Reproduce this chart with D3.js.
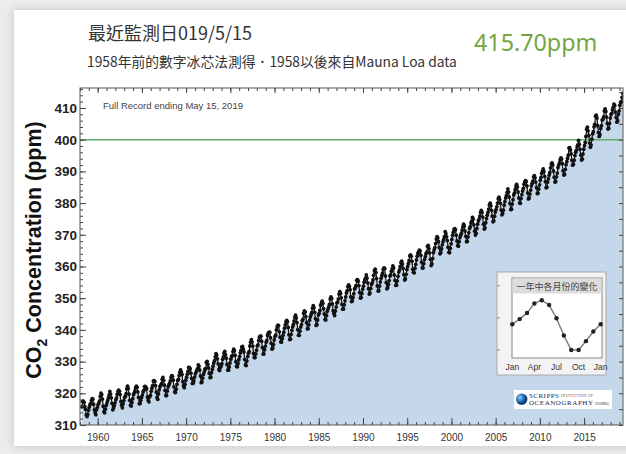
<!DOCTYPE html>
<html><head><meta charset="utf-8">
<script src="https://cdn.jsdelivr.net/npm/d3@7"></script>
<style>body{margin:0;background:#ececec;overflow:hidden} svg{display:block}</style>
</head><body>
<svg id="c" width="626" height="454"></svg>
<script>
// ---- data (monthly mean CO2, ppm), series starts March 1958 ----
const seriesStart = { year: 1958, month: 3 };
const co2_1950s = [315.71,317.45,317.50,317.10,315.86,314.93,313.20,312.66,313.33,314.67,
 315.62,316.38,316.71,317.72,318.29,318.15,316.54,314.80,313.84,313.26,314.80,315.58];
const co2_1960s = [
 316.43,316.97,317.58,319.02,320.03,319.59,318.18,315.91,314.16,313.83,315.00,316.19,
 316.93,317.70,318.54,319.48,320.58,319.77,318.57,316.79,314.80,315.38,316.10,317.01,
 317.94,318.55,319.68,320.57,321.02,320.62,319.61,317.40,316.25,315.42,316.69,317.70,
 318.74,319.07,319.86,321.38,322.25,321.48,319.74,317.77,316.21,315.99,317.12,318.31,
 319.57,320.07,320.73,321.77,322.25,321.89,320.44,318.70,316.70,316.79,317.79,318.71,
 319.44,320.44,320.89,322.13,322.16,321.87,321.39,318.81,317.81,317.30,318.87,319.42,
 320.62,321.59,322.39,323.87,324.01,323.75,322.39,320.37,318.64,318.10,319.79,321.08,
 322.07,322.50,323.04,324.42,325.00,324.09,322.55,320.92,319.31,319.31,320.72,321.96,
 322.57,323.15,323.89,325.02,325.57,325.36,324.14,322.03,320.41,320.25,321.31,322.84,
 324.00,324.42,325.64,326.66,327.38,326.70,325.89,323.67,322.38,321.78,322.85,324.12];
const co2_1970s = [
 325.03,325.99,326.87,328.13,328.07,327.66,326.35,324.69,323.10,323.16,323.98,325.13,
 326.17,326.68,327.17,327.79,328.93,328.57,327.36,325.43,323.36,323.56,324.80,326.01,
 326.77,327.63,327.75,329.72,330.07,329.09,328.05,326.32,324.93,325.06,326.50,327.55,
 328.55,329.56,330.30,331.50,332.48,332.07,330.87,329.31,327.51,327.18,328.16,328.64,
 329.35,330.71,331.48,332.65,333.20,332.16,331.07,329.12,327.32,327.28,328.30,329.58,
 330.73,331.46,331.90,333.17,333.94,333.45,331.98,329.95,328.50,328.34,329.37,330.58,
 331.59,332.75,333.52,334.64,334.77,334.00,333.06,330.68,328.95,328.75,330.15,331.62,
 332.66,333.13,334.95,336.13,336.93,336.17,334.88,332.56,331.29,331.27,332.41,333.60,
 334.95,335.25,336.66,337.69,338.03,338.01,336.41,334.41,332.37,332.41,333.75,334.90,
 336.14,336.69,338.27,338.95,339.21,339.26,337.54,335.75,333.98,334.19,335.31,336.81];
const co2_1980s = [
 337.90,338.34,340.01,340.93,341.48,341.33,339.40,337.70,336.19,336.15,337.27,338.32,
 339.29,340.55,341.61,342.53,343.03,342.54,340.78,338.44,336.95,337.08,338.58,339.88,
 340.96,341.73,342.81,343.97,344.63,343.79,342.32,340.09,338.28,338.29,339.60,340.90,
 341.68,342.90,343.33,345.25,346.03,345.63,344.19,342.27,340.35,340.38,341.59,343.05,
 344.10,344.79,345.52,346.84,347.63,346.98,345.53,343.55,341.40,341.67,343.10,344.70,
 345.21,346.16,347.74,348.34,349.06,348.38,346.72,345.02,343.27,343.13,344.49,345.88,
 346.56,347.28,348.01,349.77,350.38,349.93,348.16,346.08,345.22,344.51,345.93,347.22,
 348.52,348.73,349.73,351.31,352.09,351.53,350.11,348.08,346.52,346.59,347.96,349.16,
 350.39,351.64,352.41,353.69,354.21,353.72,352.69,350.40,348.92,349.13,350.20,351.41,
 352.91,353.27,353.96,355.64,355.86,355.37,353.99,351.81,350.05,350.25,351.49,352.85];
const co2_1990s = [
 353.80,355.04,355.73,356.32,357.32,356.34,354.84,353.01,351.31,351.62,353.07,354.33,
 354.84,355.73,357.23,358.66,359.13,358.13,356.19,353.85,352.25,352.35,353.81,355.12,
 356.25,357.11,357.86,359.09,359.59,359.33,357.01,354.94,352.96,353.32,354.32,355.57,
 357.00,357.31,358.47,359.27,360.19,359.52,357.33,355.64,354.03,354.12,355.41,356.91,
 358.24,358.92,359.99,361.23,361.65,360.81,359.38,357.46,355.73,356.07,357.53,358.98,
 359.92,360.86,361.83,363.30,363.69,363.19,361.64,359.12,358.17,357.99,359.45,360.68,
 362.07,363.24,364.17,364.57,365.13,364.92,363.55,361.38,359.54,359.58,360.89,362.24,
 363.09,364.03,364.51,366.35,366.64,365.59,364.31,362.25,360.29,360.82,362.49,364.38,
 365.26,365.98,367.24,368.66,369.42,368.99,367.82,365.95,364.02,364.40,365.52,366.83,
 367.79,368.53,369.39,371.00,370.35,369.36,368.16,366.07,364.47,364.35,365.73,367.18];
const co2_2000s = [
 368.53,369.83,370.76,371.69,371.94,371.53,369.85,368.05,366.59,366.41,367.83,369.08,
 369.88,370.51,371.49,372.48,373.34,372.74,371.18,369.51,367.83,367.90,369.31,370.61,
 371.99,372.57,373.69,374.28,375.52,374.92,373.15,371.15,369.91,370.46,371.98,373.33,
 374.37,374.94,375.90,377.06,377.69,377.05,375.58,373.36,371.80,372.16,373.79,375.11,
 376.17,377.07,378.10,379.42,379.98,379.12,377.71,375.88,374.11,374.40,375.84,377.18,
 377.95,378.83,379.99,381.38,381.86,381.12,379.93,377.79,376.31,376.68,377.76,379.34,
 380.49,381.58,382.33,383.39,384.45,383.50,381.92,379.89,377.94,378.06,379.68,381.06,
 382.55,383.19,384.28,385.34,385.91,385.07,383.50,381.64,380.00,379.94,381.41,382.66,
 383.80,384.63,385.97,386.68,387.11,386.77,385.39,383.21,381.32,381.64,382.84,384.11,
 385.44,386.26,386.93,388.29,388.64,387.97,386.64,384.85,383.00,383.08,384.41,385.75];
const co2_2010s = [
 387.20,388.12,389.39,390.09,390.76,389.89,388.44,386.75,384.84,385.02,386.65,387.69,
 388.82,389.65,391.13,392.36,392.70,392.05,390.14,388.13,386.63,386.81,388.29,389.46,
 391.19,391.99,392.67,393.64,394.22,393.93,392.44,390.19,388.86,389.08,390.64,392.10,
 393.10,394.08,395.12,397.40,397.45,396.74,395.55,393.50,391.95,392.28,393.54,394.98,
 396.00,396.70,397.80,398.35,399.76,398.57,396.98,395.14,393.57,393.84,395.51,396.98,
 398.10,399.12,401.00,403.25,403.94,402.80,401.31,398.93,397.63,398.29,400.16,401.85,
 402.51,404.04,404.83,407.42,407.70,406.81,404.39,402.25,401.03,401.57,403.53,404.42,
 406.17,406.46,407.22,409.04,409.69,408.88,407.12,405.13,403.37,403.63,405.12,406.81,
 407.96,408.32,409.41,410.24,411.24,410.79,408.71,406.99,405.51,406.00,408.02,409.07,
 410.83,411.75,411.97,413.32,414.66];

const yTicks = [310,320,330,340,350,360,370,380,390,400,410];
const xTickYears = [1960,1965,1970,1975,1980,1985,1990,1995,2000,2005,2010,2015];
const referenceLevel = 400;

// inset: average seasonal cycle (ppm anomaly), Jan..Jan
const insetMonths = [0,1,2,3,4,5,6,7,8,9,10,11,12];
const insetValues = [0.0,0.65,1.4,2.6,3.0,2.4,0.75,-1.4,-3.2,-3.2,-2.1,-0.9,0.0];
const insetLabelMonths = [0,3,6,9,12];
const insetLabels = ["Jan","Apr","Jul","Oct","Jan"];
const insetYTicks = [-3.2,0.8,4.8];

const titleText = "最近監測日019/5/15";
const subtitleText = "1958年前的數字冰芯法測得．1958以後來自Mauna Loa data";
const latestText = "415.70ppm";
const noteText = "Full Record ending May 15, 2019";
const insetTitle = "一年中各月份的變化";

// ---- build ----
const series = [].concat(co2_1950s, co2_1960s, co2_1970s, co2_1980s, co2_1990s, co2_2000s, co2_2010s)
  .map((v, i) => ({ t: seriesStart.year + (seriesStart.month - 1 + i + 0.5) / 12, v }));

const svg = d3.select("#c");
const defs = svg.append("defs");
const f = defs.append("filter").attr("id","sh").attr("x","-5%").attr("y","-5%").attr("width","110%").attr("height","110%");
f.append("feDropShadow").attr("dx",0).attr("dy",0).attr("stdDeviation",4).attr("flood-color","#000").attr("flood-opacity",0.18);
const rg = defs.append("radialGradient").attr("id","globe").attr("cx","35%").attr("cy","35%");
rg.append("stop").attr("offset","0%").attr("stop-color","#8fd0f0");
rg.append("stop").attr("offset","60%").attr("stop-color","#2f7fc4");
rg.append("stop").attr("offset","100%").attr("stop-color","#123f7a");

svg.append("rect").attr("width",626).attr("height",454).attr("fill","#ececec");
svg.append("rect").attr("x",14).attr("y",10).attr("width",640).attr("height",436).attr("fill","#fff").attr("filter","url(#sh)");

const L = 80, R = 623, T = 88, B = 425;
const x = d3.scaleLinear().domain([1958, 2019.4]).range([L, R]);
const y = d3.scaleLinear().domain([310, 416.3]).range([B, T]);

defs.append("clipPath").attr("id","clip").append("rect").attr("x",L).attr("y",T).attr("width",R-L).attr("height",B-T);

const plot = svg.append("g").attr("clip-path","url(#clip)");
plot.append("path").datum(series)
  .attr("d", d3.area().x(d=>x(d.t)).y0(B).y1(d=>y(d.v)))
  .attr("fill","#c4d7eb");
plot.append("line").attr("x1",L).attr("x2",R).attr("y1",y(referenceLevel)).attr("y2",y(referenceLevel))
  .attr("stroke","#5fae68").attr("stroke-width",1.6);
plot.append("path").datum(series)
  .attr("d", d3.line().x(d=>x(d.t)).y(d=>y(d.v)))
  .attr("fill","none").attr("stroke","#111").attr("stroke-width",1.2);
plot.selectAll("circle.pt").data(series).join("circle").attr("class","pt")
  .attr("cx",d=>x(d.t)).attr("cy",d=>y(d.v)).attr("r",1.9).attr("fill","#111");

// axes
function styleAxis(g){ g.select(".domain").remove(); g.selectAll(".tick line").attr("stroke","#444"); }
const yearsAll = d3.range(1958, 2020);
const minorY2 = d3.range(310, 417, 2);
const minorY5 = d3.range(310, 417, 5);

svg.append("g").attr("transform",`translate(${L},0)`)
  .call(d3.axisLeft(y).tickValues(minorY2).tickSize(-3).tickFormat("")).call(styleAxis);
svg.append("g").attr("transform",`translate(${L},0)`)
  .call(d3.axisLeft(y).tickValues(yTicks).tickSize(-6).tickPadding(3).tickFormat(d3.format("d")))
  .call(styleAxis)
  .call(g=>g.selectAll("text").attr("font-family","Liberation Sans, Arial, sans-serif").attr("font-size",13.5).attr("font-weight","bold").attr("fill","#222"));
svg.append("g").attr("transform",`translate(${R},0)`)
  .call(d3.axisRight(y).tickValues(minorY5).tickSize(-4).tickFormat("")).call(styleAxis);

svg.append("g").attr("transform",`translate(0,${B})`)
  .call(d3.axisBottom(x).tickValues(yearsAll).tickSize(-3).tickFormat("")).call(styleAxis);
svg.append("g").attr("transform",`translate(0,${B})`)
  .call(d3.axisBottom(x).tickValues(xTickYears).tickSize(-7).tickPadding(9).tickFormat(d3.format("d")))
  .call(styleAxis)
  .call(g=>g.selectAll("text").attr("font-family","Liberation Sans, Arial, sans-serif").attr("font-size",10).attr("fill","#333"));
svg.append("g").attr("transform",`translate(0,${T})`)
  .call(d3.axisTop(x).tickValues(yearsAll).tickSize(-3).tickFormat("")).call(styleAxis);
svg.append("g").attr("transform",`translate(0,${T})`)
  .call(d3.axisTop(x).tickValues(xTickYears).tickSize(-5).tickFormat("")).call(styleAxis);

svg.append("rect").attr("x",L).attr("y",T).attr("width",R-L).attr("height",B-T)
  .attr("fill","none").attr("stroke","#555").attr("stroke-width",1);

// y title
const yt = svg.append("text").attr("transform",`translate(41,250) rotate(-90)`)
  .attr("text-anchor","middle").attr("font-family","Liberation Sans, Arial, sans-serif")
  .attr("font-weight","bold").attr("font-size",21.5).attr("fill","#111");
yt.append("tspan").text("CO");
yt.append("tspan").attr("font-size",14).attr("dy",6).text("2");
yt.append("tspan").attr("dy",-6).text(" Concentration (ppm)");

// texts
svg.append("text").attr("x",103).attr("y",108.5).attr("font-family","Liberation Sans, Arial, sans-serif")
  .attr("font-size",9.5).attr("fill","#444").text(noteText);
svg.append("text").attr("x",88).attr("y",40).attr("font-family","Noto Sans CJK TC, sans-serif")
  .attr("font-size",18).attr("fill","#333").text(titleText);
svg.append("text").attr("x",87).attr("y",67).attr("font-family","Noto Sans CJK TC, sans-serif")
  .attr("font-size",13.8).attr("fill","#333").text(subtitleText);
svg.append("text").attr("x",474).attr("y",51).attr("font-family","Noto Sans, sans-serif")
  .attr("font-size",23.3).attr("fill","#74a541").text(latestText);

// inset
const ins = svg.append("g");
ins.append("rect").attr("x",497).attr("y",272).attr("width",109).attr("height",103)
  .attr("fill","#f3f3f3").attr("stroke","#aaa");
ins.append("rect").attr("x",512).attr("y",278).attr("width",90).attr("height",80)
  .attr("fill","#fff").attr("stroke","#888");
ins.append("rect").attr("x",512.5).attr("y",278.5).attr("width",89).attr("height",15)
  .attr("fill","#dcdcdc");
ins.append("text").attr("x",557).attr("y",289.5).attr("text-anchor","middle")
  .attr("font-family","Noto Sans CJK TC, sans-serif").attr("font-size",9).attr("fill","#444").text(insetTitle);
const ix = d3.scaleLinear().domain([0,12]).range([512.3,600.7]);
const iy = d3.scaleLinear().domain([-4.2,3.9]).range([358,293]);
ins.selectAll("line.it").data(insetYTicks).join("line").attr("class","it")
  .attr("x1",497).attr("x2",500).attr("y1",d=>iy(d)).attr("y2",d=>iy(d)).attr("stroke","#888");
ins.append("path").datum(insetMonths.map((m,i)=>({m, v: insetValues[i]})))
  .attr("d", d3.line().x(d=>ix(d.m)).y(d=>iy(d.v)))
  .attr("fill","none").attr("stroke","#777").attr("stroke-width",1.4);
ins.selectAll("circle.ip").data(insetMonths.map((m,i)=>({m, v: insetValues[i]}))).join("circle").attr("class","ip")
  .attr("cx",d=>ix(d.m)).attr("cy",d=>iy(d.v)).attr("r",2.2).attr("fill","#222");
ins.selectAll("text.il").data(insetLabelMonths).join("text").attr("class","il")
  .attr("x",d=>ix(d)).attr("y",370).attr("text-anchor","middle")
  .attr("font-family","Liberation Sans, Arial, sans-serif").attr("font-size",8.5).attr("fill","#333")
  .text((d,i)=>insetLabels[i]);

// logo
const lg = svg.append("g");
lg.append("rect").attr("x",514).attr("y",390).attr("width",98).attr("height",19).attr("fill","#fff");
lg.append("circle").attr("cx",521.7).attr("cy",399.3).attr("r",5.7).attr("fill","url(#globe)");
lg.append("text").attr("x",529).attr("y",397.5).attr("font-family","Liberation Serif, serif").attr("font-size",7)
  .attr("fill","#1b2b4b").attr("textLength",30).text("SCRIPPS");
lg.append("text").attr("x",561).attr("y",397).attr("font-family","Liberation Serif, serif").attr("font-size",3.5)
  .attr("fill","#555").attr("textLength",32).text("INSTITUTION OF");
lg.append("text").attr("x",529).attr("y",404.5).attr("font-family","Liberation Serif, serif").attr("font-size",7)
  .attr("fill","#1b2b4b").attr("textLength",64).text("OCEANOGRAPHY");
lg.append("text").attr("x",595).attr("y",404.5).attr("font-family","Liberation Serif, serif").attr("font-size",3)
  .attr("fill","#555").attr("textLength",14).text("UC SAN DIEGO");
</script>
</body></html>
